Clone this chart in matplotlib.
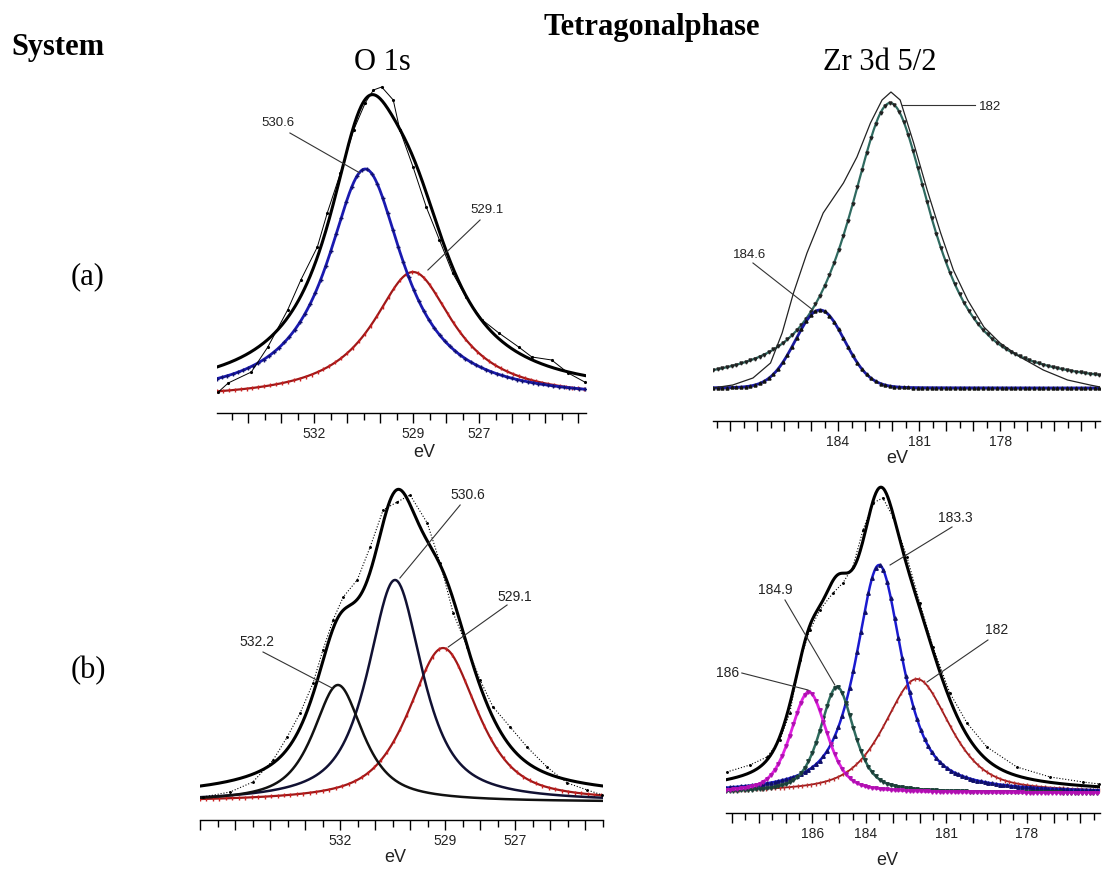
import numpy as np
import matplotlib
matplotlib.use("Agg")
import matplotlib.pyplot as plt
from matplotlib.ticker import MultipleLocator

# ---------------- data (intensity in arbitrary units) ----------------
# Panel (a) O 1s : fitted components
ao_centers = [530.45, 529.0]
ao_heights = [230, 127]
ao_fwhm = [2.8, 3.0]
ao_eta = [1.0, 1.0]
ao_offset = 14
ao_env_offset = 18
ao_data_E = [534.9, 534.6, 533.9, 533.4, 532.8, 532.4, 531.9, 531.6, 531.2, 530.8, 530.45,
             530.2, 529.95, 529.6, 529.4, 529.0, 528.6, 528.2, 527.8, 527.4, 526.9,
             526.4, 525.8, 525.4, 524.8, 524.3, 523.8]
ao_data_I = [21, 30, 41, 66, 103, 133, 166, 200, 240, 283, 310,
             323, 326, 313, 283, 246, 206, 173, 140, 116, 93,
             80, 66, 56, 53, 40, 31]
ao_labels = ["530.6", "529.1"]

# Panel (a) Zr 3d 5/2
az_centers = [184.67, 182.07]
az_heights = [78, 285]
az_fwhm = [2.16, 3.7]
az_eta = [0.05, 0.85]
az_offset = 33
az_data_E = [188.63, 187.9, 187.15, 186.5, 186.07, 185.65, 185.15, 184.55, 183.8, 183.3,
             182.8, 182.37, 182.04, 181.7, 181.2, 180.7, 180.2, 179.73, 179.2, 178.6,
             178.0, 177.26, 176.4, 175.5, 174.67, 174.3]
az_data_I = [33, 36, 43, 58, 88, 128, 168, 208, 238, 264,
             298, 321, 329, 321, 278, 231, 188, 151, 121, 94,
             78, 64, 51, 41, 36, 34]
az_labels = ["184.6", "182"]

# Panel (b) O 1s
bo_centers = [532.06, 530.43, 529.06]
bo_heights = [117, 222, 154]
bo_fwhm = [1.7, 1.86, 2.33]
bo_eta = [0.8, 0.8, 0.7]
bo_offset = 18
bo_env_offset = 22
bo_data_E = [535.91, 535.14, 534.49, 533.91, 533.51, 533.14, 532.77, 532.49, 532.2, 531.91,
             531.51, 531.14, 530.77, 530.37, 530.0, 529.51, 529.14, 528.77, 528.37, 528.0,
             527.63, 527.14, 526.66, 526.09, 525.51, 524.94, 524.51]
bo_data_I = [23, 28, 38, 60, 83, 107, 137, 170, 200, 223,
             240, 273, 310, 318, 325, 297, 257, 207, 173, 140,
             113, 93, 73, 53, 37, 30, 25]
bo_labels = ["532.2", "530.6", "529.1"]

# Panel (b) Zr 3d 5/2
bz_centers = [186.13, 185.08, 183.51, 182.1]
bz_heights = [101, 106, 228, 114]
bz_fwhm = [1.6, 1.5, 2.05, 2.9]
bz_eta = [0.5, 0.6, 0.75, 0.6]
bz_offset = 20
bz_data_E = [189.19, 188.33, 187.69, 187.21, 186.84, 186.46, 186.09, 185.72, 185.23, 184.86,
             184.49, 184.11, 183.74, 183.37, 182.99, 182.47, 181.99, 181.5, 180.87, 180.23,
             179.49, 178.37, 177.13, 175.9, 175.3]
bz_data_I = [41, 48, 56, 73, 100, 153, 183, 203, 220, 230,
             246, 283, 310, 315, 296, 256, 210, 166, 120, 90,
             66, 46, 36, 31, 29]
bz_labels = ["186", "184.9", "183.3", "182"]

# tick labels shown
ao_ticklabels = [532, 529, 527]
az_ticklabels = [184, 181, 178]
bo_ticklabels = [532, 529, 527]
bz_ticklabels = [186, 184, 181, 178]


def pv(E, c, h, w, eta):
    x = (E - c) / w
    return h * (eta / (1 + 4 * x ** 2) + (1 - eta) * np.exp(-4 * np.log(2) * x ** 2))


W, H = 1102, 872
fig = plt.figure(figsize=(W / 100, H / 100), dpi=100)
fig.patch.set_facecolor("white")

SANS = "Liberation Sans"
SERIF = "Liberation Serif"


def make_ax(left, right, spine, top, xlim, ticklabels, evx, evy):
    ax = fig.add_axes([left / W, 1 - spine / H, (right - left) / W, (spine - top) / H])
    ax.set_xlim(*xlim)
    ax.set_ylim(0, spine - top)
    for s in ["top", "right", "left"]:
        ax.spines[s].set_visible(False)
    ax.spines["bottom"].set_linewidth(1.0)
    ax.set_yticks([])
    lo, hi = min(xlim), max(xlim)
    majors = np.arange(np.ceil(lo), np.floor(hi) + 1, 1.0)
    ax.set_xticks(majors)
    ax.set_xticklabels([str(int(m)) if int(m) in ticklabels else "" for m in majors],
                       fontfamily=SANS, fontsize=10, color="#222222")
    ax.xaxis.set_minor_locator(MultipleLocator(0.5))
    ax.tick_params(axis="x", which="major", direction="out", length=7, width=1, pad=3)
    ax.tick_params(axis="x", which="minor", direction="out", length=5, width=1)
    ax.text((evx - left) / (right - left), -(evy - spine) / (spine - top), "eV",
            transform=ax.transAxes, ha="center", va="center", fontfamily=SANS, fontsize=13,
            color="#222222")
    ax.patch.set_alpha(0)
    return ax


def annotate(ax, text, tpos, lstart, lend, fs=10):
    ax.plot([lstart[0], lend[0]], [lstart[1], lend[1]], color="#333333", lw=0.8)
    ax.text(tpos[0], tpos[1], text, ha="center", va="center", fontfamily=SANS, fontsize=fs,
            color="#222222")


# ---------- (a) O 1s ----------
ax = make_ax(217, 586, 413, 80, (534.94, 523.76), ao_ticklabels, 424, 452)
E = np.linspace(534.94, 523.76, 500)
comps = [pv(E, c, h, w, e) for c, h, w, e in zip(ao_centers, ao_heights, ao_fwhm, ao_eta)]
ax.plot(E, ao_offset + comps[1], color="#a01818", lw=1.6, marker="|", ms=2.5, markevery=8,
        mec="#cc2020")
ax.plot(E, ao_offset + comps[0], color="#1a1ab0", lw=2.0, marker="+", ms=3, markevery=7,
        mec="#101070")
ax.plot(ao_data_E, ao_data_I, color="black", lw=0.7, marker=".", ms=2.5)
ax.plot(E, ao_env_offset + comps[0] + comps[1], color="black", lw=2.2)
annotate(ax, ao_labels[0], (533.09, 290), (532.73, 280), (530.61, 240), fs=9.5)
annotate(ax, ao_labels[1], (526.76, 203), (526.97, 193), (528.55, 143), fs=9.5)

# ---------- (a) Zr 3d 5/2 ----------
ax = make_ax(713, 1100, 421, 80, (188.63, 174.30), az_ticklabels, 897, 458)
E = np.linspace(188.63, 174.30, 500)
comps = [pv(E, c, h, w, e) for c, h, w, e in zip(az_centers, az_heights, az_fwhm, az_eta)]
ax.plot(E, az_offset + comps[1], color="#2f6a60", lw=1.6, marker="v", ms=2.2, markevery=6,
        mfc="#222222", mec="#222222")
ax.plot(E, az_offset + comps[0], color="#1a1aa0", lw=2.0, marker="^", ms=2.2, markevery=6,
        mfc="#111111", mec="#111111")
ax.plot(az_data_E, az_data_I, color="#222222", lw=0.9)
annotate(ax, az_labels[0], (187.26, 166), (187.15, 158), (184.93, 111), fs=9.5)
annotate(ax, az_labels[1], (178.37, 314), (181.63, 316), (178.93, 316), fs=9.5)

# ---------- (b) O 1s ----------
ax = make_ax(200, 603, 820, 480, (536.0, 524.49), bo_ticklabels, 395, 857)
E = np.linspace(536.0, 524.49, 500)
comps = [pv(E, c, h, w, e) for c, h, w, e in zip(bo_centers, bo_heights, bo_fwhm, bo_eta)]
ax.plot(E, bo_offset + comps[2], color="#a01818", lw=1.6, marker="|", ms=2.5, markevery=8,
        mec="#cc2020")
ax.plot(E, bo_offset + comps[1], color="#111133", lw=1.8)
ax.plot(E, bo_offset + comps[0], color="#111111", lw=1.8)
ax.plot(bo_data_E, bo_data_I, color="black", lw=0.8, marker=".", ms=2.2, ls=":")
ax.plot(E, bo_env_offset + comps[0] + comps[1] + comps[2], color="black", lw=2.2)
annotate(ax, bo_labels[0], (534.37, 178), (534.2, 168), (532.23, 132))
annotate(ax, bo_labels[1], (528.34, 325), (528.57, 315), (530.29, 242))
annotate(ax, bo_labels[2], (527.0, 223), (527.23, 215), (528.91, 173))

# ---------- (b) Zr 3d 5/2 ----------
ax = make_ax(726, 1100, 813, 480, (189.22, 175.27), bz_ticklabels, 887, 860)
E = np.linspace(189.22, 175.27, 500)
comps = [pv(E, c, h, w, e) for c, h, w, e in zip(bz_centers, bz_heights, bz_fwhm, bz_eta)]
ax.plot(E, bz_offset + comps[3], color="#9b1b1b", lw=1.3, marker="|", ms=2.5, markevery=6,
        mec="#c03030")
ax.plot(E, bz_offset + comps[2], color="#1a1ad0", lw=1.8, marker="^", ms=2.5, markevery=5,
        mfc="#10106a", mec="#10106a")
ax.plot(E, bz_offset + comps[1], color="#2e6b5e", lw=1.8, marker="v", ms=2.5, markevery=5,
        mfc="#1c3f38", mec="#1c3f38")
ax.plot(E, bz_offset + comps[0], color="#e020e0", lw=2.0, marker="v", ms=2.5, markevery=5,
        mfc="#b010b0", mec="#b010b0")
ax.plot(bz_data_E, bz_data_I, color="black", lw=0.8, marker=".", ms=2.2, ls=":")
ax.plot(E, bz_offset + sum(comps), color="black", lw=2.2)
annotate(ax, bz_labels[0], (189.15, 140), (188.63, 140), (186.16, 123))
annotate(ax, bz_labels[1], (187.4, 223), (187.02, 213), (185.16, 128))
annotate(ax, bz_labels[2], (180.68, 295), (180.79, 286), (183.1, 248))
annotate(ax, bz_labels[3], (179.11, 183), (179.45, 173), (181.72, 131))

# ---------- headings ----------
fig.text(652 / W, 1 - 28 / H, "Tetragonalphase", ha="center", va="center",
         fontfamily=SERIF, fontsize=22, fontweight="bold")
fig.text(58 / W, 1 - 47 / H, "System", ha="center", va="center",
         fontfamily=SERIF, fontsize=22, fontweight="bold")
fig.text(382 / W, 1 - 62 / H, "O 1s", ha="center", va="center", fontfamily=SERIF, fontsize=22)
fig.text(880 / W, 1 - 62 / H, "Zr 3d 5/2", ha="center", va="center", fontfamily=SERIF, fontsize=22)
fig.text(88 / W, 1 - 277 / H, "(a)", ha="center", va="center", fontfamily=SERIF, fontsize=22)
fig.text(88 / W, 1 - 671 / H, "(b)", ha="center", va="center", fontfamily=SERIF, fontsize=22)

fig.savefig("out.png", dpi=100, facecolor="white")
